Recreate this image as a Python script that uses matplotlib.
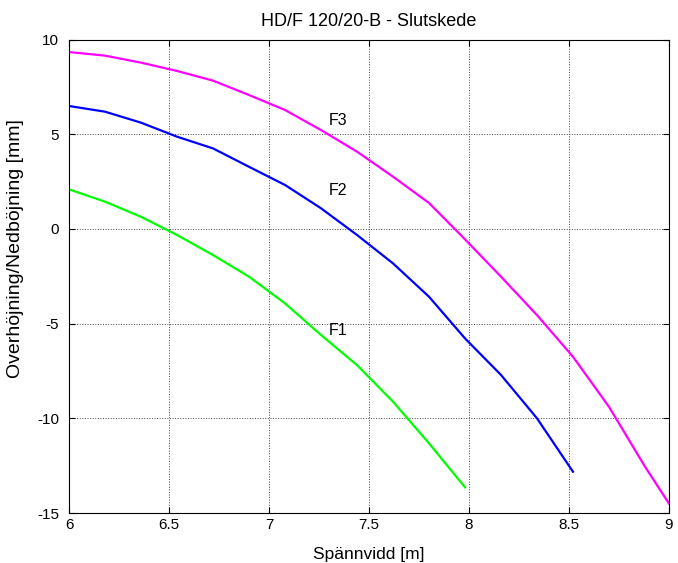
import matplotlib
matplotlib.use('Agg')
import matplotlib.pyplot as plt
import numpy as np

plt.rcParams['font.family'] = ['Liberation Sans', 'DejaVu Sans']
plt.rcParams['axes.unicode_minus'] = False

# span [m] sampled every 0.18 m
span = [6.0, 6.18, 6.36, 6.54, 6.72, 6.90, 7.08, 7.26, 7.44, 7.62,
        7.80, 7.98, 8.16, 8.34, 8.52, 8.70, 8.88, 9.0]

# deflection [mm] per load case
f1 = [2.09, 1.44, 0.64, -0.32, -1.38, -2.52, -3.93, -5.60, -7.19, -9.12,
      -11.32, -13.64]
f2 = [6.49, 6.19, 5.61, 4.87, 4.25, 3.28, 2.32, 1.09, -0.32, -1.82,
      -3.58, -5.78, -7.71, -10.0, -12.82]
f3 = [9.34, 9.15, 8.78, 8.34, 7.83, 7.07, 6.28, 5.22, 4.08, 2.76,
      1.37, -0.55, -2.52, -4.55, -6.75, -9.39, -12.55, -14.5]

labels = ['F1', 'F2', 'F3']
label_pos = [(7.3, -5.34), (7.3, 2.05), (7.3, 5.75)]

fig = plt.figure(figsize=(6.78, 5.63), dpi=100)
ax = fig.add_axes([0.1018, 0.0888, 0.8849, 0.8410])

ax.plot(span[:len(f1)], f1, color='#00ff00', lw=1.6)
ax.plot(span[:len(f2)], f2, color='#0000ff', lw=1.6)
ax.plot(span[:len(f3)], f3, color='#ff00ff', lw=1.6)

for lab, (x, y) in zip(labels, label_pos):
    ax.text(x, y, lab, fontsize=11.5, ha='left', va='center')

ax.set_xlim(6, 9)
ax.set_ylim(-15, 10)
ax.set_xticks(np.arange(6, 9.01, 0.5))
ax.set_xticklabels(['6', '6.5', '7', '7.5', '8', '8.5', '9'])
ax.set_yticks(np.arange(-15, 10.1, 5))
ax.grid(True, linestyle=':', color='#444444', linewidth=0.7)
ax.tick_params(direction='in', top=True, right=True, labelsize=11, length=4, width=0.8)
ax.tick_params(axis='y', pad=7)
for s in ax.spines.values():
    s.set_linewidth(0.8)

ax.set_title('HD/F 120/20-B - Slutskede', fontsize=13, pad=10)
ax.set_xlabel('Spännvidd [m]', fontsize=12.5, labelpad=11)
ax.set_ylabel('Overhöjning/Nedböjning [mm]', fontsize=14)
ax.yaxis.set_label_coords(-0.075, 0.559)

fig.savefig('out.png', dpi=100)
